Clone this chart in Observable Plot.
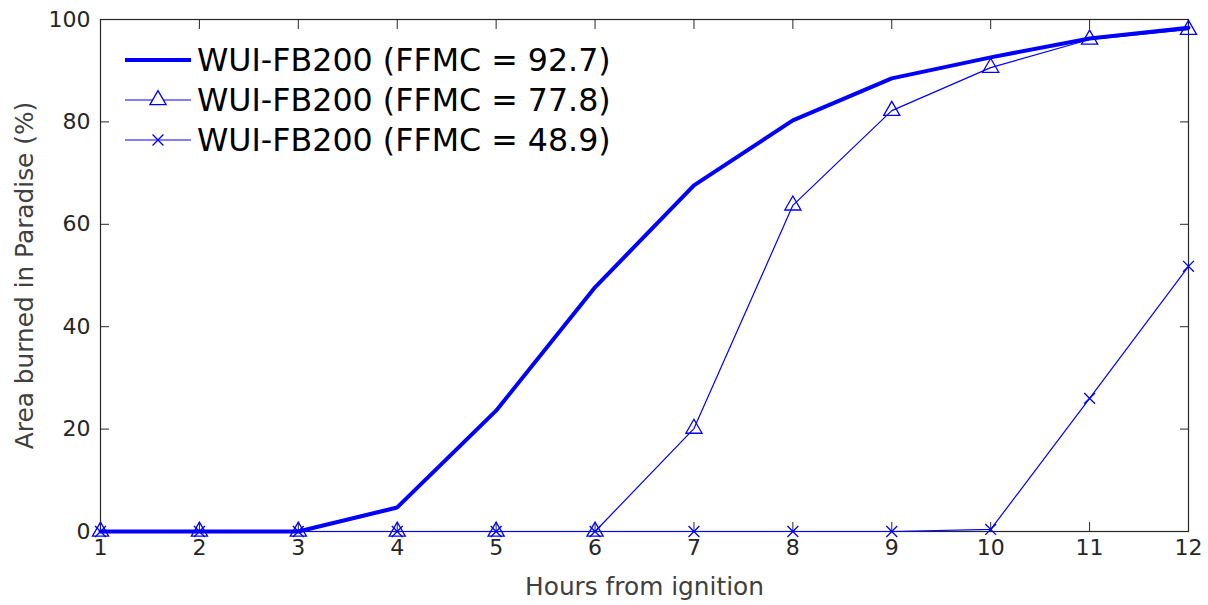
<!DOCTYPE html>
<html>
<head>
<meta charset="utf-8">
<script src="https://cdn.jsdelivr.net/npm/d3@7"></script>
<script src="https://cdn.jsdelivr.net/npm/@observablehq/plot@0.6"></script>
<style>
  html, body { margin: 0; padding: 0; background: #fff; }
  #wrap { position: relative; width: 1208px; height: 605px; font-family: "DejaVu Sans", sans-serif; }
  #legend { position: absolute; left: 125px; top: 40px; }
  .row { display: flex; align-items: center; height: 40px; }
  .row span { font-size: 31.7px; color: #000; margin-left: 6px; line-height: 40px; white-space: nowrap; }
</style>
</head>
<body>
<div id="wrap"><div id="legend"></div></div>
<script>
const hours = [1, 2, 3, 4, 5, 6, 7, 8, 9, 10, 11, 12];
const ffmc927 = [0, 0, 0, 4.7, 23.6, 47.7, 67.6, 80.3, 88.5, 92.6, 96.3, 98.4];
const ffmc778 = [0, 0, 0, 0, 0, 0, 20.1, 63.7, 82.2, 90.6, 96.1, 98.0];
const ffmc489 = [0, 0, 0, 0, 0, 0, 0, 0, 0, 0.4, 26.0, 51.8];
const seriesNames = ["WUI-FB200 (FFMC = 92.7)", "WUI-FB200 (FFMC = 77.8)", "WUI-FB200 (FFMC = 48.9)"];
const xTicks = hours;
const yTicks = [0, 20, 40, 60, 80, 100];
const xLabel = "Hours from ignition";
const yLabel = "Area burned in Paradise (%)";

const blue = "#0000ff";
const axisColor = "#262626";

const toRows = (vals, name) => hours.map((h, i) => ({hour: h, value: vals[i], series: name}));
const s1 = toRows(ffmc927, seriesNames[0]);
const s2 = toRows(ffmc778, seriesNames[1]);
const s3 = toRows(ffmc489, seriesNames[2]);

const blank = () => "";

const chart = Plot.plot({
  width: 1208,
  height: 605,
  marginLeft: 100,
  marginRight: 20,
  marginTop: 19,
  marginBottom: 74,
  style: {fontFamily: "DejaVu Sans, sans-serif", fontSize: "22px", color: axisColor, background: "#fff", overflow: "visible"},
  x: {domain: [1, 12]},
  y: {domain: [0, 100]},
  marks: [
    Plot.axisX({ticks: xTicks, tickSize: 0, tickPadding: 8, tickFormat: d => String(d), label: null, fill: axisColor, fontSize: 22}),
    Plot.axisX({ticks: xTicks, tickSize: -9, tickFormat: blank, label: null, stroke: axisColor}),
    Plot.axisX({ticks: xTicks, anchor: "top", tickSize: -9, tickFormat: blank, label: null, stroke: axisColor}),
    Plot.axisY({ticks: yTicks, tickSize: 0, tickPadding: 10, tickFormat: d => String(d), label: null, fill: axisColor, fontSize: 22}),
    Plot.axisY({ticks: yTicks, tickSize: -9, tickFormat: blank, label: null, stroke: axisColor}),
    Plot.axisY({ticks: yTicks, anchor: "right", tickSize: -9, tickFormat: blank, label: null, stroke: axisColor}),
    Plot.frame({stroke: axisColor, strokeWidth: 1.2}),
    Plot.text([xLabel], {frameAnchor: "bottom", dy: 56, fontSize: 24.8, fill: "#404040", lineAnchor: "middle", textAnchor: "middle"}),
    Plot.text([yLabel], {frameAnchor: "left", dx: -75, rotate: -90, fontSize: 24.8, fill: "#404040", lineAnchor: "middle", textAnchor: "middle"}),
    Plot.line(s1, {x: "hour", y: "value", stroke: blue, strokeWidth: 4}),
    Plot.line(s2, {x: "hour", y: "value", stroke: blue, strokeWidth: 1.2}),
    Plot.dot(s2, {x: "hour", y: "value", symbol: "triangle", r: 6, stroke: blue, fill: "none", strokeWidth: 1.3}),
    Plot.line(s3, {x: "hour", y: "value", stroke: blue, strokeWidth: 1.2}),
    Plot.dot(s3, {x: "hour", y: "value", symbol: "times", r: 5, stroke: blue, fill: "none", strokeWidth: 1.3})
  ]
});
document.getElementById("wrap").prepend(chart);

// Legend
const legend = d3.select("#legend");
const kinds = ["thick", "triangle", "times"];
seriesNames.forEach((name, i) => {
  const row = legend.append("div").attr("class", "row");
  const svg = row.append("svg").attr("width", 66).attr("height", 40);
  svg.append("line").attr("x1", 0).attr("x2", 66).attr("y1", 20).attr("y2", 20)
    .attr("stroke", blue).attr("stroke-width", kinds[i] === "thick" ? 4 : 1.2);
  if (kinds[i] !== "thick") {
    const sym = kinds[i] === "triangle" ? d3.symbolTriangle : d3.symbolTimes;
    const r = kinds[i] === "triangle" ? 6 : 5;
    svg.append("path").attr("d", d3.symbol(sym, Math.PI * r * r)()).attr("transform", "translate(33,20)")
      .attr("fill", kinds[i] === "triangle" ? "#fff" : "none").attr("stroke", blue).attr("stroke-width", 1.3);
  }
  row.append("span").text(name);
});
</script>
</body>
</html>
